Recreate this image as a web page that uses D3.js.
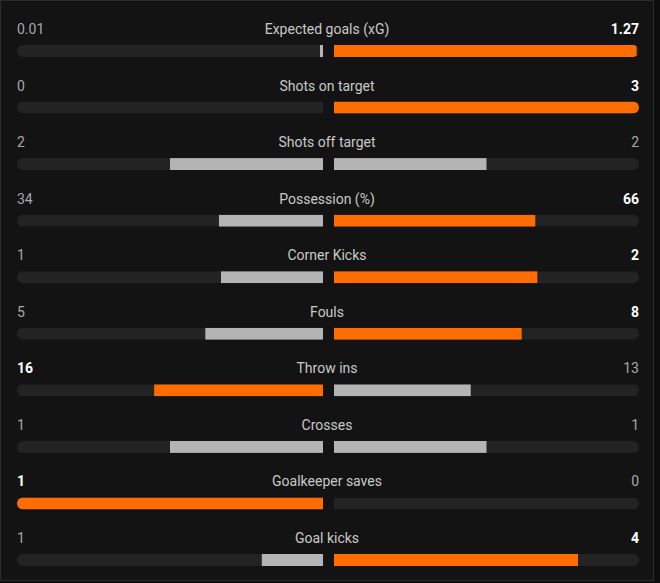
<!DOCTYPE html>
<html>
<head>
<meta charset="utf-8">
<script src="https://cdn.jsdelivr.net/npm/d3@7/dist/d3.min.js"></script>
<style>
  html, body { margin: 0; padding: 0; background: #0d0d0d; }
  svg { display: block; }
</style>
</head>
<body>
<svg id="chart" width="660" height="583"></svg>
<script>
const categories = ["Expected goals (xG)", "Shots on target", "Shots off target", "Possession (%)", "Corner Kicks", "Fouls", "Throw ins", "Crosses", "Goalkeeper saves", "Goal kicks"];
const homeValues = [0.01, 0, 2, 34, 1, 5, 16, 1, 1, 1];
const awayValues = [1.27, 3, 2, 66, 2, 8, 13, 1, 0, 4];
const homeLabels = ["0.01", "0", "2", "34", "1", "5", "16", "1", "1", "1"];
const awayLabels = ["1.27", "3", "2", "66", "2", "8", "13", "1", "0", "4"];

const W = 660, H = 583;
const svg = d3.select("#chart");
const font = "Roboto, 'Noto Sans', sans-serif";

// frame
svg.append("rect").attr("x", 0).attr("y", 0).attr("width", 654).attr("height", 581).attr("fill", "#131313");
svg.append("rect").attr("x", 0.5).attr("y", 0.5).attr("width", 653).attr("height", 580).attr("fill", "none").attr("stroke", "#2c2c2c");

const trackL0 = 17, trackL1 = 323, trackR0 = 334, trackR1 = 639;
const trackH = 12;
const rowY = d3.scalePoint().domain(categories).range([45, 554]);

const defs = svg.append("defs");
const orange = "#ff6d00", gray = "#b4b4b4", track = "#232323";

categories.forEach((cat, i) => {
  const y = rowY(cat);
  const h = homeValues[i], a = awayValues[i];
  const total = h + a;
  const g = svg.append("g");

  const cl = defs.append("clipPath").attr("id", "cl" + i);
  cl.append("rect").attr("x", trackL0).attr("y", y).attr("width", trackL1 - trackL0 + trackH)
    .attr("height", trackH).attr("rx", trackH / 2);
  const cr = defs.append("clipPath").attr("id", "cr" + i);
  cr.append("rect").attr("x", trackR0 - trackH).attr("y", y).attr("width", trackR1 - trackR0 + trackH)
    .attr("height", trackH).attr("rx", trackH / 2);

  g.append("rect").attr("clip-path", `url(#cl${i})`).attr("x", trackL0).attr("y", y)
    .attr("width", trackL1 - trackL0).attr("height", trackH).attr("fill", track);
  g.append("rect").attr("clip-path", `url(#cr${i})`).attr("x", trackR0).attr("y", y)
    .attr("width", trackR1 - trackR0).attr("height", trackH).attr("fill", track);

  const xL = d3.scaleLinear().domain([0, total]).range([trackL1, trackL0]);
  const xR = d3.scaleLinear().domain([0, total]).range([trackR0, trackR1]);

  const homeWin = h > a, awayWin = a > h;
  let wl = trackL1 - xL(h);
  if (h > 0 && wl < 3) wl = 3;
  g.append("rect").attr("clip-path", `url(#cl${i})`).attr("x", trackL1 - wl).attr("y", y)
    .attr("width", wl).attr("height", trackH).attr("fill", homeWin ? orange : gray);
  g.append("rect").attr("clip-path", `url(#cr${i})`).attr("x", trackR0).attr("y", y)
    .attr("width", xR(a) - trackR0).attr("height", trackH).attr("fill", awayWin ? orange : gray);

  const ty = y - 11;
  g.append("text").attr("x", 327).attr("y", ty).attr("text-anchor", "middle")
    .attr("font-family", font).attr("font-size", 14).attr("fill", "#c9c9c9").text(cat);
  g.append("text").attr("x", 17).attr("y", ty).attr("text-anchor", "start")
    .attr("font-family", font).attr("font-size", 14)
    .attr("font-weight", homeWin ? 700 : 400)
    .attr("fill", homeWin ? "#ffffff" : "#a8a8a8").text(homeLabels[i]);
  g.append("text").attr("x", 639).attr("y", ty).attr("text-anchor", "end")
    .attr("font-family", font).attr("font-size", 14)
    .attr("font-weight", awayWin ? 700 : 400)
    .attr("fill", awayWin ? "#ffffff" : "#a8a8a8").text(awayLabels[i]);
});
</script>
</body>
</html>
